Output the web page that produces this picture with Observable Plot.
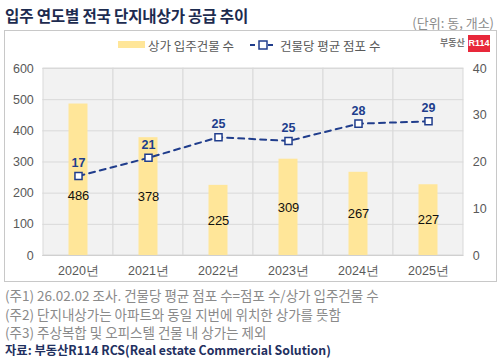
<!DOCTYPE html>
<html><head><meta charset="utf-8">
<script src="https://cdn.jsdelivr.net/npm/d3@7"></script>
<script src="https://cdn.jsdelivr.net/npm/@observablehq/plot@0.6"></script>
<style>
body{margin:0;width:500px;height:359px;position:relative;background:#fff;overflow:hidden;font-family:"Noto Sans CJK KR","Noto Sans",sans-serif;}
.abs{position:absolute;white-space:nowrap;}
#title{left:5px;top:4px;font-size:15.6px;font-weight:bold;color:#1d2b4f;letter-spacing:-0.2px;}
#unit{right:6px;top:13px;font-size:13px;color:#8c8c8c;}
#box{left:4px;top:30px;width:491px;height:250px;border:1px solid #c8c8c8;}
#chart{left:5px;top:56px;}
.leg{font-size:12.5px;color:#595959;top:36px;}
.notes{left:5px;font-size:13.5px;color:#8a8a8a;}
#src{left:5px;top:341px;font-size:12.3px;font-weight:bold;color:#1f3060;}
</style></head><body>
<div class="abs" id="title">입주 연도별 전국 단지내상가 공급 추이</div>
<div class="abs" id="unit">(단위: 동, 개소)</div>
<div class="abs" id="box"></div>
<div class="abs" style="left:118px;top:41px;width:27px;height:7px;background:#ffe699"></div>
<div class="abs leg" style="left:148px">상가 입주건물 수</div>
<svg class="abs" style="left:249px;top:38px" width="28" height="14"><line x1="1" y1="7" x2="27" y2="7" stroke="#203d8c" stroke-width="2" stroke-dasharray="5,4"/><rect x="10" y="3" width="8" height="8" fill="#fff" stroke="#203d8c" stroke-width="1.5"/></svg>
<div class="abs leg" style="left:280px">건물당 평균 점포 수</div>
<div class="abs" style="left:440px;top:36px;font-size:9px;font-weight:bold;color:#777">부동산</div>
<div class="abs" style="left:468px;top:35px;width:22px;height:17px;background:#e8283a;color:#fff;font-size:9px;font-weight:bold;text-align:center;line-height:17px;font-family:'Liberation Sans'">R114</div>
<div class="abs" style="left:266px;top:135px;width:57px;height:60px;background:#f4b4b4;opacity:0.18"></div>
<div class="abs" id="chart"></div>
<div class="abs notes" style="top:285px">(주1) 26.02.02 조사. 건물당 평균 점포 수=점포 수/상가 입주건물 수</div>
<div class="abs notes" style="top:304px">(주2) 단지내상가는 아파트와 동일 지번에 위치한 상가를 뜻함</div>
<div class="abs notes" style="top:322px">(주3) 주상복합 및 오피스텔 건물 내 상가는 제외</div>
<div class="abs" id="src">자료: 부동산R114 RCS(Real estate Commercial Solution)</div>
<script>
const years = ["2020년","2021년","2022년","2023년","2024년","2025년"];
const buildings = [486, 378, 225, 309, 267, 227];
const avgStores = [17.0, 20.9, 25.3, 24.5, 28.2, 28.7];
const avgLabels = ["17","21","25","25","28","29"];
const leftTicks = [0,100,200,300,400,500,600];
const rightTicks = [0,10,20,30,40];

const k = 600/40;
const data = years.map((y,i)=>({year:y, count:buildings[i], avg:avgStores[i], avgLabel:avgLabels[i]}));

const chart = Plot.plot({
  width: 490, height: 222,
  marginTop: 12, marginBottom: 23, marginLeft: 37.3, marginRight: 31.7,
  style: {fontFamily: "'Liberation Sans', Arial, sans-serif", fontSize: "12.5px", color: "#595959", background: "transparent"},
  x: {type: "band", domain: years, padding: 0, label: null},
  y: {domain: [0, 600], label: null},
  marks: [
    Plot.barY(data, {x: "year", y1: () => 0, y2: () => 600, fill: "#f2f2f2", stroke: "#d9d9d9", strokeWidth: 1}),
    Plot.gridY(leftTicks, {stroke: "#d9d9d9", strokeOpacity: 1}),
    Plot.barY(data, {x: "year", y: "count", fill: "#ffe699", insetLeft: 25.5, insetRight: 25.5}),
    Plot.ruleY([0], {stroke: "#d0d0d0"}),
    Plot.text(data, {x: "year", y: d => Math.min(d.count/2, 190), text: d => String(d.count), fill: "#111", fontSize: 13}),
    Plot.line(data, {x: "year", y: d => d.avg*k, stroke: "#203d8c", strokeWidth: 2, strokeDasharray: "6,5"}),
    Plot.dot(data, {x: "year", y: d => d.avg*k, symbol: "square", r: 4, fill: "#fff", stroke: "#203d8c", strokeWidth: 1.5}),
    Plot.text(data, {x: "year", y: d => d.avg*k, text: "avgLabel", dy: -13, fill: "#203d8c", fontWeight: "bold", fontSize: 12.5}),
    Plot.axisY(leftTicks, {anchor: "left", tickSize: 0, tickPadding: 9, label: null, fill: "#595959"}),
    Plot.axisY(rightTicks.map(t => t*k), {anchor: "right", tickSize: 0, tickPadding: 9, tickFormat: d => String(d/k), label: null, fill: "#595959"}),
    Plot.axisX({tickSize: 0, tickPadding: 11, label: null, fill: "#595959"})
  ]
});
document.getElementById("chart").appendChild(chart);
</script>
</body></html>
